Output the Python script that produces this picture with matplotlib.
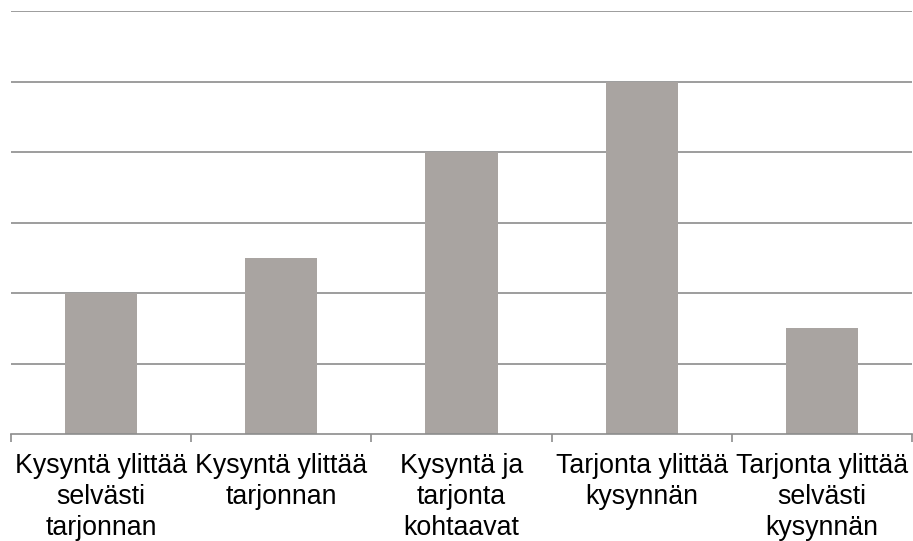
import numpy as np
import matplotlib.pyplot as plt

plt.rcParams['font.family'] = ['Liberation Sans', 'DejaVu Sans']

categories = ["Kysyntä ylittää\nselvästi\ntarjonnan", "Kysyntä ylittää\ntarjonnan",
              "Kysyntä ja\ntarjonta\nkohtaavat", "Tarjonta ylittää\nkysynnän",
              "Tarjonta ylittää\nselvästi\nkysynnän"]
values = [2, 2.5, 4, 5, 1.5]

fig = plt.figure(figsize=(9.13, 5.41), dpi=100)
ax = fig.add_axes([11/913, 107/541, 901/913, 423/541])

x = np.arange(len(categories))
ax.bar(x, values, width=0.4, color="#a9a4a1", zorder=2)

ax.set_xlim(-0.5, len(categories) - 0.5)
ax.set_ylim(0, 6)
ax.set_yticks(np.arange(1, 7))
ax.yaxis.grid(True, color="#8c8c8c", linewidth=1.2, zorder=0)
ax.tick_params(axis="y", left=False, labelleft=False)

ax.set_xticks(x)
ax.set_xticklabels(categories, fontsize=19.3, color="black", linespacing=1.25)
ax.tick_params(axis="x", which="major", length=0, pad=14)
ax.set_xticks(np.arange(-0.5, len(categories)), minor=True)
ax.tick_params(axis="x", which="minor", length=6, width=1.2, color="#8c8c8c")

for s in ["top", "right", "left"]:
    ax.spines[s].set_visible(False)
ax.spines["bottom"].set_color("#8c8c8c")
ax.spines["bottom"].set_linewidth(1.2)

fig.savefig("out.png", dpi=100)
